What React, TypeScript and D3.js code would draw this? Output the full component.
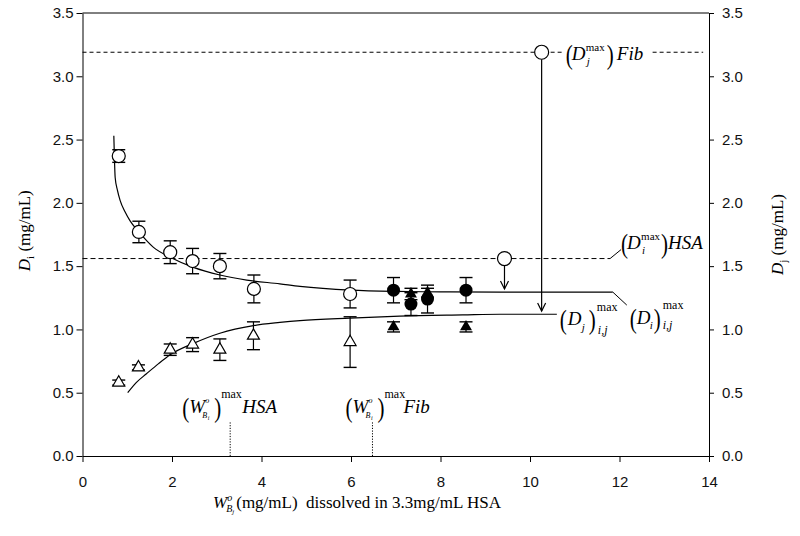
import * as d3 from 'd3';
import { useEffect, useRef } from 'react';

const xTicks = [0, 2, 4, 6, 8, 10, 12, 14];
const yTicks = [0, 0.5, 1, 1.5, 2, 2.5, 3, 3.5];

// D_i (open circles: HSA only, filled: with Fib)
const diOpenX = [0.81, 1.26, 1.96, 2.46, 3.07, 3.83, 5.98];
const diOpenY = [2.37, 1.77, 1.61, 1.54, 1.5, 1.32, 1.28];
const diOpenErr = [0.05, 0.085, 0.09, 0.1, 0.1, 0.11, 0.11];

const djOpenX = [0.81, 1.25, 1.96, 2.46, 3.07, 3.82, 5.98];
const djOpenY = [0.58, 0.7, 0.84, 0.88, 0.84, 0.95, 0.9];
const djOpenErr = [0.02, 0.02, 0.045, 0.055, 0.085, 0.11, 0.2];

const diFillX = [6.95, 7.34, 7.71, 8.57];
const diFillY = [1.31, 1.2, 1.24, 1.31];
const diFillErr = [0.1, 0.09, 0.11, 0.1];

const djFillX = [6.95, 7.34, 7.71, 8.57];
const djFillY = [1.02, 1.28, 1.29, 1.02];
const djFillErr = [0.04, 0.045, 0.035, 0.04];

// fitted curves
const diFitX = [0.7, 0.71, 0.73, 0.78, 0.84, 0.95, 1.06, 1.26, 1.58, 1.96, 2.48, 3.07, 3.67, 4.41, 4.86, 5.98, 7.0, 8.0, 9.33, 11.85];
const diFitY = [2.53, 2.4, 2.2, 2.1, 2.02, 1.93, 1.86, 1.77, 1.65, 1.57, 1.49, 1.43, 1.39, 1.36, 1.34, 1.31, 1.3, 1.297, 1.295, 1.295];
const djFitX = [1.01, 1.2, 1.43, 1.7, 1.96, 2.48, 3.07, 3.82, 4.41, 4.86, 5.98, 7.09, 8.5, 9.33, 10.6];
const djFitY = [0.5, 0.58, 0.65, 0.73, 0.8, 0.89, 0.97, 1.03, 1.055, 1.07, 1.09, 1.105, 1.115, 1.12, 1.12];

// max reference levels
const hsaMaxD = 1.56;
const fibMaxD = 3.19;
const hsaMaxW = 3.3;
const fibMaxW = 6.48;
const wLineTop = 0.27;
const hsaMark = { x: 9.43, y: 1.56, to: 1.32 };
const fibMark = { x: 10.26, y: 3.19, to: 1.145 };

const SERIF = "'Liberation Serif', 'Times New Roman', serif";
const SANS = "'Liberation Sans', Arial, sans-serif";

type Piece = { t: string; dx: number; dy: number; size: number; it?: boolean };

// tall thin brackets like the equation editor ones
const paren = (t: string, dx: number): Piece => ({ t, dx, dy: 4, size: 28 });

function mathLabel(g: any, x0: number, y0: number, pieces: Piece[]) {
  pieces.forEach((p) => {
    const isParen = p.t === '(' || p.t === ')';
    g.append('text')
      .attr('transform', `translate(${x0 + p.dx},${y0 + p.dy})${isParen ? ' scale(0.75,1)' : ''}`)
      .attr('font-family', SERIF)
      .attr('font-size', p.size)
      .attr('font-style', p.it ? 'italic' : 'normal')
      .attr('fill', '#000')
      .text(p.t);
  });
}

export default function App() {
  const ref = useRef<SVGSVGElement | null>(null);

  useEffect(() => {
    const svg = d3.select(ref.current);
    svg.selectAll('*').remove();
    const margin = { top: 13, right: 91, bottom: 80, left: 82.5 };
    const width = 800;
    const height = 536;
    const x = d3.scaleLinear().domain([0, 14]).range([margin.left, width - margin.right]);
    const y = d3.scaleLinear().domain([0, 3.5]).range([height - margin.bottom, margin.top]);
    const g = svg.append('g');

    // frame + axes
    const styleAxis = (sel: any) => {
      sel.select('.domain').attr('stroke', '#000').attr('stroke-width', 1);
      sel.selectAll('.tick line').attr('stroke', '#000');
      sel.selectAll('.tick text').attr('font-family', SANS).attr('font-size', 15).attr('fill', '#111');
    };
    g.append('g')
      .attr('transform', `translate(0,${y(0)})`)
      .call(d3.axisBottom(x).tickValues(xTicks).tickFormat(d3.format('d')).tickSize(6).tickSizeOuter(0).tickPadding(14))
      .call(styleAxis);
    g.append('g')
      .attr('transform', `translate(${x(0)},0)`)
      .call(d3.axisLeft(y).tickValues(yTicks).tickFormat(d3.format('.1f')).tickSize(6).tickSizeOuter(0).tickPadding(3))
      .call(styleAxis);
    g.append('g')
      .attr('transform', `translate(${x(14)},0)`)
      .call(d3.axisRight(y).tickValues(yTicks).tickFormat(d3.format('.1f')).tickSize(5).tickSizeOuter(0).tickPadding(8))
      .call(styleAxis);
    g.append('line')
      .attr('x1', x(0)).attr('x2', x(14)).attr('y1', y(3.5)).attr('y2', y(3.5))
      .attr('stroke', '#000');

    // axis titles
    const lt = g.append('text')
      .attr('transform', `translate(30,${y(1.78)}) rotate(-90)`)
      .attr('text-anchor', 'middle')
      .attr('font-family', SERIF).attr('font-size', 17);
    lt.append('tspan').attr('font-style', 'italic').text('D');
    lt.append('tspan').attr('font-size', 11).attr('dy', 4).text('i');
    lt.append('tspan').attr('dy', -4).text(' (mg/mL)');

    const rt = g.append('text')
      .attr('transform', `translate(783,${y(1.75)}) rotate(-90)`)
      .attr('text-anchor', 'middle')
      .attr('font-family', SERIF).attr('font-size', 17);
    rt.append('tspan').attr('font-style', 'italic').text('D');
    rt.append('tspan').attr('font-size', 11).attr('dy', 4).text('j');
    rt.append('tspan').attr('dy', -4).text(' (mg/mL)');

    const bt = g.append('text')
      .attr('x', 213).attr('y', 508)
      .attr('font-family', SERIF).attr('font-size', 17)
      .style('white-space', 'pre');
    bt.append('tspan').attr('font-style', 'italic').text('W');
    bt.append('tspan').attr('font-style', 'italic').attr('font-size', 10).attr('dy', -7).text('o');
    bt.append('tspan').attr('font-style', 'italic').attr('font-size', 10).attr('dx', -6).attr('dy', 11).text('B');
    bt.append('tspan').attr('font-style', 'italic').attr('font-size', 7).attr('dy', 2).text('j');
    bt.append('tspan').attr('dx', 2).attr('dy', -6).text('(mg/mL)  dissolved in 3.3mg/mL HSA');

    // reference lines
    const dashed = (x1: number, x2: number, yv: number, dash: string) =>
      g.append('line')
        .attr('x1', x1).attr('x2', x2).attr('y1', y(yv)).attr('y2', y(yv))
        .attr('stroke', '#000').attr('stroke-width', 1).attr('stroke-dasharray', dash);
    const R = 7;
    dashed(x(0), x(fibMark.x) - R, fibMaxD, '4,3');
    dashed(x(fibMark.x) + R + 2, x(10.8) - 2, fibMaxD, '4,3');
    dashed(x(12.74), x(13.87), fibMaxD, '4,3');
    dashed(x(0), x(hsaMark.x) - R, hsaMaxD, '5,3');
    dashed(x(hsaMark.x) + R, x(11.79), hsaMaxD, '5,3');

    [hsaMaxW, fibMaxW].forEach((w) => {
      g.append('line')
        .attr('x1', x(w)).attr('x2', x(w)).attr('y1', y(0)).attr('y2', y(wLineTop))
        .attr('stroke', '#000').attr('stroke-width', 1).attr('stroke-dasharray', '1.2,1.5');
    });

    // fitted curves
    const line = d3.line<[number, number]>().x((d) => x(d[0])).y((d) => y(d[1])).curve(d3.curveMonotoneX);
    g.append('path')
      .attr('d', line(diFitX.map((v, i) => [v, diFitY[i]]) as [number, number][]))
      .attr('fill', 'none').attr('stroke', '#000').attr('stroke-width', 1.2);
    g.append('path')
      .attr('d', line(djFitX.map((v, i) => [v, djFitY[i]]) as [number, number][]))
      .attr('fill', 'none').attr('stroke', '#000').attr('stroke-width', 1.2);

    // leader lines to labels
    const leader = (x1: number, y1: number, x2: number, y2: number) =>
      g.append('line').attr('x1', x1).attr('y1', y1).attr('x2', x2).attr('y2', y2)
        .attr('stroke', '#000').attr('stroke-width', 1);
    leader(x(11.85), y(1.295), x(11.85) + 14, y(1.295) + 13);
    leader(x(11.79), y(hsaMaxD), x(11.79) + 11, y(hsaMaxD) - 9);

    // arrows from max markers
    const arrow = (xv: number, y0: number, y1: number) => {
      const xp = x(xv);
      const top = y(y0) + R;
      const tip = y(y1);
      g.append('line').attr('x1', xp).attr('x2', xp).attr('y1', top).attr('y2', tip).attr('stroke', '#000').attr('stroke-width', 1.2);
      g.append('path')
        .attr('d', `M${xp - 4},${tip - 8}L${xp},${tip}L${xp + 4},${tip - 8}`)
        .attr('fill', 'none').attr('stroke', '#000').attr('stroke-width', 1.2);
    };
    arrow(hsaMark.x, hsaMark.y, hsaMark.to);
    arrow(fibMark.x, fibMark.y, fibMark.to);
    [hsaMark, fibMark].forEach((m) => {
      g.append('circle').attr('cx', x(m.x)).attr('cy', y(m.y)).attr('r', R)
        .attr('fill', '#fff').attr('stroke', '#000').attr('stroke-width', 1.2);
    });

    // error bars + markers
    const errBars = (xs: number[], ys: number[], es: number[]) => {
      xs.forEach((xv, i) => {
        const xp = x(xv);
        const y1 = y(ys[i] + es[i]);
        const y2 = y(ys[i] - es[i]);
        g.append('line').attr('x1', xp).attr('x2', xp).attr('y1', y1).attr('y2', y2).attr('stroke', '#000').attr('stroke-width', 1.2);
        [y1, y2].forEach((yy) => {
          g.append('line').attr('x1', xp - 6.5).attr('x2', xp + 6.5).attr('y1', yy).attr('y2', yy).attr('stroke', '#000').attr('stroke-width', 1.4);
        });
      });
    };
    errBars(diOpenX, diOpenY, diOpenErr);
    errBars(djOpenX, djOpenY, djOpenErr);
    errBars(diFillX, diFillY, diFillErr);
    errBars(djFillX, djFillY, djFillErr);

    const tri = d3.symbol().type(d3.symbolTriangle).size(62);
    diOpenX.forEach((xv, i) => {
      g.append('circle').attr('cx', x(xv)).attr('cy', y(diOpenY[i])).attr('r', 6.5)
        .attr('fill', '#fff').attr('stroke', '#000').attr('stroke-width', 1.2);
    });
    djOpenX.forEach((xv, i) => {
      g.append('path').attr('d', tri()).attr('transform', `translate(${x(xv)},${y(djOpenY[i])})`)
        .attr('fill', '#fff').attr('stroke', '#000').attr('stroke-width', 1.2);
    });
    diFillX.forEach((xv, i) => {
      g.append('circle').attr('cx', x(xv)).attr('cy', y(diFillY[i])).attr('r', 6.5).attr('fill', '#000');
    });
    djFillX.forEach((xv, i) => {
      g.append('path').attr('d', tri()).attr('transform', `translate(${x(xv)},${y(djFillY[i])})`).attr('fill', '#000');
    });

    // math annotations
    const lab = g.append('g');
    mathLabel(lab, x(10.8), y(fibMaxD) + 8, [
      paren('(', 0), { t: 'D', dx: 6, dy: 0, size: 19, it: true },
      { t: 'max', dx: 20, dy: -9, size: 11 }, { t: 'j', dx: 21, dy: 5, size: 11, it: true },
      paren(')', 41), { t: 'Fib', dx: 51, dy: 0, size: 19, it: true }
    ]);
    mathLabel(lab, x(11.79) + 11, y(hsaMaxD) - 10, [
      paren('(', 0), { t: 'D', dx: 6, dy: 0, size: 19, it: true },
      { t: 'max', dx: 20, dy: -9, size: 11 }, { t: 'i', dx: 21, dy: 5, size: 11, it: true },
      paren(')', 40), { t: 'HSA', dx: 47, dy: 0, size: 19, it: true }
    ]);
    mathLabel(lab, x(11.85) + 17, y(1.295) + 32, [
      paren('(', 0), { t: 'D', dx: 7, dy: 0, size: 19, it: true },
      { t: 'i', dx: 20, dy: 5, size: 11, it: true }, paren(')', 24),
      { t: 'max', dx: 33, dy: -15, size: 12 }, { t: 'i,j', dx: 33, dy: 5, size: 12, it: true }
    ]);
    mathLabel(lab, x(10.6) + 3, y(1.12) + 11, [
      paren('(', 0), { t: 'D', dx: 8, dy: 0, size: 19, it: true },
      { t: 'j', dx: 22, dy: 6, size: 11, it: true }, paren(')', 29),
      { t: 'max', dx: 37, dy: -14, size: 12 }, { t: 'i,j', dx: 38, dy: 9, size: 12, it: true }
    ]);
    [
      { w: hsaMaxW, name: 'HSA', dx0: -48 },
      { w: fibMaxW, name: 'Fib', dx0: -27 }
    ].forEach((d) => {
      mathLabel(lab, x(d.w) + d.dx0, y(wLineTop) - 9, [
        paren('(', 0), { t: 'W', dx: 7, dy: 0, size: 19, it: true },
        { t: 'o', dx: 23, dy: -10, size: 8, it: true }, { t: 'B', dx: 20, dy: 5, size: 8, it: true },
        { t: 'i', dx: 25.5, dy: 7, size: 6, it: true }, paren(')', 32),
        { t: 'max', dx: 39, dy: -15, size: 12 }, { t: d.name, dx: d.name === 'HSA' ? 60 : 58, dy: 0, size: 19, it: true }
      ]);
    });
  }, []);

  return (
    <div style={{ position: 'absolute', left: 0, top: 0, background: '#fff' }}>
      <svg ref={ref} width={800} height={536} role="img" aria-label="Di and Dj versus W" />
    </div>
  );
}
